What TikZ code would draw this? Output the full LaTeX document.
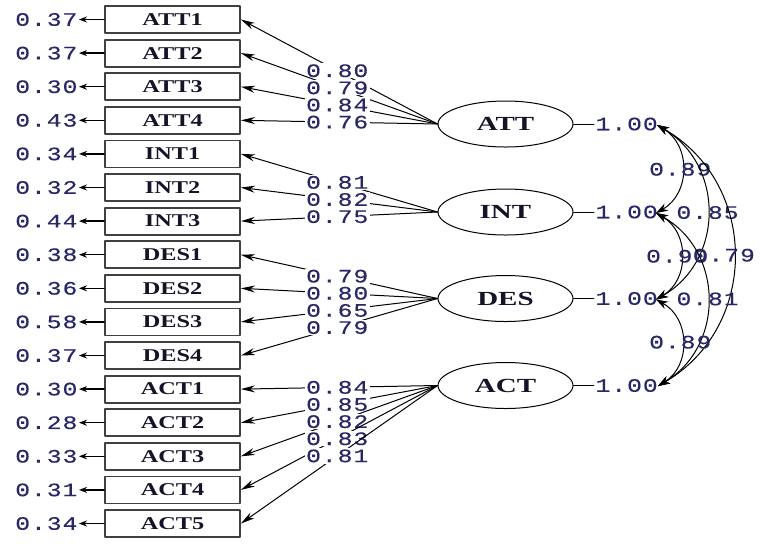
\documentclass[tikz,border=0pt]{standalone}
\usepackage{fontspec}
\usepackage{tikz}
\usetikzlibrary{arrows.meta}
\usetikzlibrary{shapes.geometric}
\newfontfamily\lisnum[FakeStretch=1.3,LetterSpace=5,FakeBold=0.4]{Liberation Mono}
\newfontfamily\lisvar[FakeStretch=1.35]{Liberation Serif}
\newfontfamily\lislat[FakeStretch=1.45]{Liberation Serif}
\definecolor{numblue}{RGB}{40,40,105}
\definecolor{boxtext}{RGB}{20,20,40}
\begin{document}
\begin{tikzpicture}[line cap=round,line join=round,x=0.5pt,y=-0.5pt,
  obs/.style={draw=black!75,line width=0.9pt,minimum width=67.5pt,minimum height=13.5pt,inner sep=0pt,font=\lisvar\bfseries\fontsize{9}{9}\selectfont,text=boxtext},
  lat/.style={ellipse,draw,line width=0.5pt,minimum width=67.5pt,minimum height=23pt,inner sep=0pt,font=\lislat\bfseries\fontsize{10}{10}\selectfont,text=boxtext},
  val/.style={font=\lisnum\fontsize{9.5}{9.5}\selectfont,text=numblue,inner sep=0.6pt},
  lam/.style={-{Stealth[length=7pt,width=3.5pt]},line width=0.5pt},
  err/.style={-{Stealth[length=4pt,width=3pt]},line width=0.7pt},
  cov/.style={{Stealth[length=6pt,width=4pt]}-{Stealth[length=6pt,width=4pt]},line width=0.5pt,bend left=60,looseness=1.15}]
\useasboundingbox (0,0) rectangle (761,543);
\node[obs] (ATT1) at (172.5,19.5) {ATT1};
\node[obs] (ATT2) at (172.5,53.1) {ATT2};
\node[obs] (ATT3) at (172.5,86.7) {ATT3};
\node[obs] (ATT4) at (172.5,120.3) {ATT4};
\node[obs] (INT1) at (172.5,153.9) {INT1};
\node[obs] (INT2) at (172.5,187.5) {INT2};
\node[obs] (INT3) at (172.5,221.1) {INT3};
\node[obs] (DES1) at (172.5,254.7) {DES1};
\node[obs] (DES2) at (172.5,288.3) {DES2};
\node[obs] (DES3) at (172.5,321.9) {DES3};
\node[obs] (DES4) at (172.5,355.5) {DES4};
\node[obs] (ACT1) at (172.5,389.1) {ACT1};
\node[obs] (ACT2) at (172.5,422.7) {ACT2};
\node[obs] (ACT3) at (172.5,456.3) {ACT3};
\node[obs] (ACT4) at (172.5,489.9) {ACT4};
\node[obs] (ACT5) at (172.5,523.5) {ACT5};
\node[val,anchor=east] (eATT1) at (79,19.5) {0.37};
\node[val,anchor=east] (eATT2) at (79,53.1) {0.37};
\node[val,anchor=east] (eATT3) at (79,86.7) {0.30};
\node[val,anchor=east] (eATT4) at (79,120.3) {0.43};
\node[val,anchor=east] (eINT1) at (79,153.9) {0.34};
\node[val,anchor=east] (eINT2) at (79,187.5) {0.32};
\node[val,anchor=east] (eINT3) at (79,221.1) {0.44};
\node[val,anchor=east] (eDES1) at (79,254.7) {0.38};
\node[val,anchor=east] (eDES2) at (79,288.3) {0.36};
\node[val,anchor=east] (eDES3) at (79,321.9) {0.58};
\node[val,anchor=east] (eDES4) at (79,355.5) {0.37};
\node[val,anchor=east] (eACT1) at (79,389.1) {0.30};
\node[val,anchor=east] (eACT2) at (79,422.7) {0.28};
\node[val,anchor=east] (eACT3) at (79,456.3) {0.33};
\node[val,anchor=east] (eACT4) at (79,489.9) {0.31};
\node[val,anchor=east] (eACT5) at (79,523.5) {0.34};
\draw[err] (ATT1.west) -- (eATT1.east);
\draw[err] (ATT2.west) -- (eATT2.east);
\draw[err] (ATT3.west) -- (eATT3.east);
\draw[err] (ATT4.west) -- (eATT4.east);
\draw[err] (INT1.west) -- (eINT1.east);
\draw[err] (INT2.west) -- (eINT2.east);
\draw[err] (INT3.west) -- (eINT3.east);
\draw[err] (DES1.west) -- (eDES1.east);
\draw[err] (DES2.west) -- (eDES2.east);
\draw[err] (DES3.west) -- (eDES3.east);
\draw[err] (DES4.west) -- (eDES4.east);
\draw[err] (ACT1.west) -- (eACT1.east);
\draw[err] (ACT2.west) -- (eACT2.east);
\draw[err] (ACT3.west) -- (eACT3.east);
\draw[err] (ACT4.west) -- (eACT4.east);
\draw[err] (ACT5.west) -- (eACT5.east);
\node[lat] (ATT) at (505.5,124) {ATT};
\node[lat] (INT) at (505.5,212) {INT};
\node[lat] (DES) at (505.5,298.5) {DES};
\node[lat] (ACT) at (505.5,385.5) {ACT};
\draw[lam] (ATT.west) -- node[val,pos=0.51,fill=white] (lATT1) {0.80} (ATT1.east);
\draw[lam] (ATT.west) -- node[val,pos=0.51,fill=white] (lATT2) {0.79} (ATT2.east);
\draw[lam] (ATT.west) -- node[val,pos=0.51,fill=white] (lATT3) {0.84} (ATT3.east);
\draw[lam] (ATT.west) -- node[val,pos=0.51,fill=white] (lATT4) {0.76} (ATT4.east);
\draw[lam] (INT.west) -- node[val,pos=0.51,fill=white] (lINT1) {0.81} (INT1.east);
\draw[lam] (INT.west) -- node[val,pos=0.51,fill=white] (lINT2) {0.82} (INT2.east);
\draw[lam] (INT.west) -- node[val,pos=0.51,fill=white] (lINT3) {0.75} (INT3.east);
\draw[lam] (DES.west) -- node[val,pos=0.51,fill=white] (lDES1) {0.79} (DES1.east);
\draw[lam] (DES.west) -- node[val,pos=0.51,fill=white] (lDES2) {0.80} (DES2.east);
\draw[lam] (DES.west) -- node[val,pos=0.51,fill=white] (lDES3) {0.65} (DES3.east);
\draw[lam] (DES.west) -- node[val,pos=0.51,fill=white] (lDES4) {0.79} (DES4.east);
\draw[lam] (ACT.west) -- node[val,pos=0.51,fill=white] (lACT1) {0.84} (ACT1.east);
\draw[lam] (ACT.west) -- node[val,pos=0.51,fill=white] (lACT2) {0.85} (ACT2.east);
\draw[lam] (ACT.west) -- node[val,pos=0.51,fill=white] (lACT3) {0.82} (ACT3.east);
\draw[lam] (ACT.west) -- node[val,pos=0.51,fill=white] (lACT4) {0.83} (ACT4.east);
\draw[lam] (ACT.west) -- node[val,pos=0.51,fill=white] (lACT5) {0.81} (ACT5.east);
\node[val,anchor=west] (vATT) at (594,124) {1.00};
\node[val,anchor=west] (vINT) at (594,212) {1.00};
\node[val,anchor=west] (vDES) at (594,298.5) {1.00};
\node[val,anchor=west] (vACT) at (594,385.5) {1.00};
\draw (ATT.east) -- (vATT.west);
\draw (INT.east) -- (vINT.west);
\draw (DES.east) -- (vDES.west);
\draw (ACT.east) -- (vACT.west);
\coordinate (cATT) at (657,125);
\coordinate (cINT) at (656,213);
\coordinate (cDES) at (656,299.5);
\coordinate (cACT) at (658,386);
\draw[cov] (cATT) to node[val,xshift=-1pt] (rAI) {0.89} (cINT);
\draw[cov] (cATT) to node[val] (rAD) {0.85} (cDES);
\draw[cov] (cATT) to node[val,xshift=-5pt] (rAA) {0.79} (cACT);
\draw[cov] (cINT) to node[val,xshift=-2pt] (rID) {0.90} (cDES);
\draw[cov] (cINT) to node[val] (rIA) {0.81} (cACT);
\draw[cov] (cDES) to node[val,xshift=-1pt] (rDA) {0.89} (cACT);
\end{tikzpicture}
\end{document}
